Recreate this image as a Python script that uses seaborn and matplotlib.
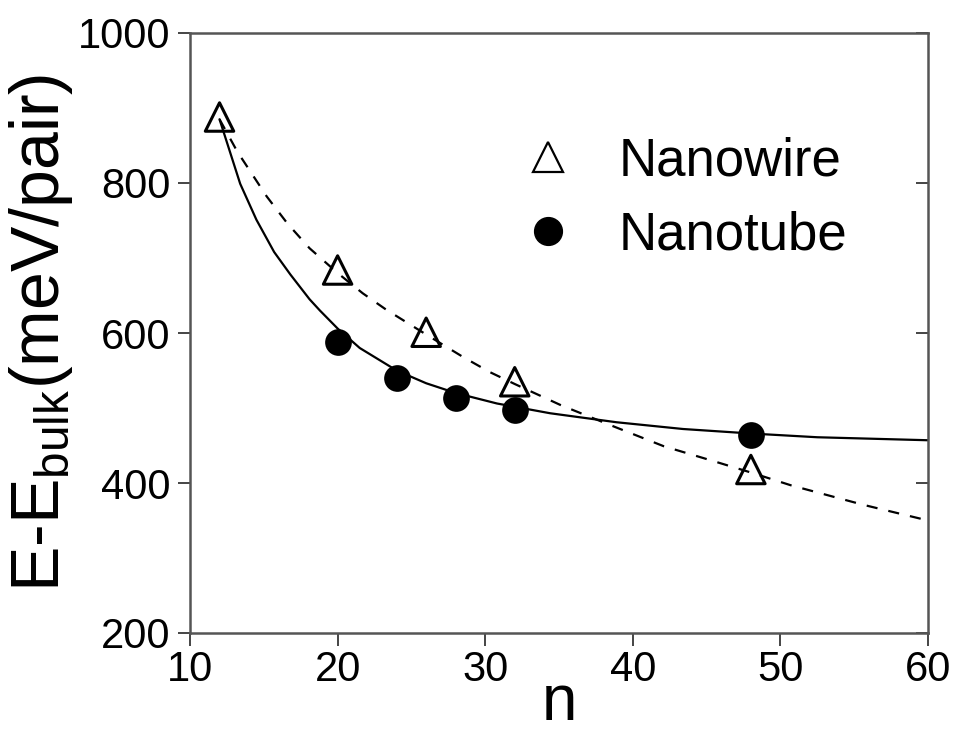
import matplotlib
matplotlib.use("Agg")
import matplotlib.pyplot as plt
import seaborn as sns
import pandas as pd
from matplotlib.lines import Line2D

# measured data points
wire_n = [12, 20, 26, 32, 48]
wire_e = [888, 684, 601, 535, 418]
tube_n = [20, 24, 28, 32, 48]
tube_e = [588, 540, 513, 497, 464]

# fitted curves
wire_fit_n = [12, 13.2, 14.1, 15.2, 16.6, 18.1, 20, 21.7, 23.3, 26, 28.5, 30.3, 32,
              35.1, 38.5, 42.1, 45.5, 48, 50.7, 55.6, 60]
wire_fit_e = [885, 842, 815, 782, 746, 713, 680, 653, 631, 598, 568, 548, 532,
              504, 477, 449, 429, 414, 397, 371, 350]
tube_fit_n = [12, 13.4, 14.5, 15.7, 16.8, 18.1, 18.8, 20, 21.5, 24, 26, 28, 30.8,
              34.4, 38.9, 43.4, 48, 52.5, 60]
tube_fit_e = [885, 799, 751, 708, 678, 645, 630, 606, 580, 550, 533, 520, 506,
              493, 481, 472, 466, 461, 457]

x_ticks = [10, 20, 30, 40, 50, 60]
y_ticks = [200, 400, 600, 800, 1000]

sns.set_theme(style="ticks")
plt.rcParams["font.family"] = ["Liberation Sans", "DejaVu Sans"]
plt.rcParams["mathtext.fontset"] = "custom"
plt.rcParams["mathtext.rm"] = "Liberation Sans"
plt.rcParams["mathtext.it"] = "Liberation Sans"
plt.rcParams["text.color"] = "black"
plt.rcParams["axes.labelcolor"] = "black"

W, H = 956, 742
fig = plt.figure(figsize=(W / 100, H / 100), dpi=100)
ax = fig.add_axes([190 / W, 1 - 633 / H, (928 - 190) / W, (633 - 33) / H])

sns.lineplot(x=tube_fit_n, y=tube_fit_e, ax=ax, color="black", lw=1.6,
             sort=False, estimator=None)
sns.lineplot(x=wire_fit_n, y=wire_fit_e, ax=ax, color="black", lw=1.6,
             sort=False, estimator=None)
ax.lines[-1].set_dashes((5, 5))

sns.scatterplot(x=wire_n, y=wire_e, ax=ax, marker="^", s=420,
                facecolor="none", edgecolor="black", linewidth=2.2, zorder=4)
sns.scatterplot(x=tube_n, y=tube_e, ax=ax, marker="o", s=370,
                color="black", edgecolor="black", linewidth=0, zorder=4)

ax.set_xlim(10, 60)
ax.set_ylim(200, 1000)
ax.set_xticks(x_ticks)
ax.set_yticks(y_ticks)
ax.tick_params(axis="both", labelsize=30, length=9, width=1.4, color="#444444",
               labelcolor="black", direction="out")
ax.tick_params(axis="y", pad=5)
ax.tick_params(axis="x", pad=3)
ax.tick_params(axis="y", which="major", right=True, labelright=False)
for t in ax.yaxis.get_ticklines()[1::2]:
    t.set_marker(0)  # right-side ticks point inward

for s in ax.spines.values():
    s.set_visible(True)
    s.set_color("#555555")
    s.set_linewidth(1.8)

ax.set_xlabel("n", fontsize=46, labelpad=-12)
ax.set_ylabel(r"E-E$_{\mathrm{bulk}}$(meV/pair)", fontsize=49, labelpad=2)

handles = [
    Line2D([], [], marker="^", ls="none", markersize=21, markerfacecolor="none",
           markeredgecolor="black", markeredgewidth=1.6),
    Line2D([], [], marker="o", ls="none", markersize=20, markerfacecolor="black",
           markeredgecolor="black"),
]
ax.legend(handles, ["Nanowire", "Nanotube"], frameon=False, fontsize=38,
          loc="upper left", bbox_to_anchor=((495 - 190) / (928 - 190), 1 - (110 - 33) / 600),
          handlelength=1.0, handletextpad=0.85, labelspacing=0.45, borderpad=0)

fig.savefig("out.png", dpi=100, facecolor="white")
